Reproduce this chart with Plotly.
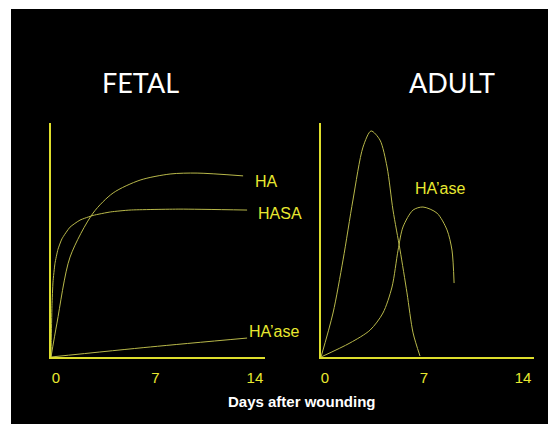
import plotly.graph_objects as go

# page is rendered with an 8px body margin; figure fills the rest of the window
W, H = 548, 416
OX, OY = 8, 8  # page offset of the figure

# ---- data ----
fetal_ha_days = [0, 0.42, 1.34, 2.96, 4.37, 6.27, 8.38, 10.28, 13.52]
fetal_ha_vals = [0, 14.5, 42.7, 61.5, 70.1, 75.6, 78.2, 78.6, 77.4]

fetal_hasa_days = [0, 0.02, 0.07, 0.14, 0.28, 0.49, 0.77, 1.34, 2.04, 2.96, 4.2, 5.56, 9.08, 13.8]
fetal_hasa_vals = [0, 7, 22, 32, 40, 46, 50.5, 55.5, 58.5, 60.5, 62, 62.8, 63.2, 62.8]

fetal_haase_days = [0, 7, 13.8]
fetal_haase_vals = [0, 4.3, 8.1]

adult_ha_days = [0.0, 0.85, 1.56, 2.26, 2.97, 3.54, 4.17, 4.67, 5.09, 5.59, 6.08, 6.51, 7.0]
adult_ha_vals = [0.0, 18.8, 41.5, 67.1, 89.7, 96.6, 92.7, 81.2, 62.8, 45.7, 27.4, 10.3, 0.4]

adult_haase_days = [0.0, 2.05, 3.47, 4.38, 5.02, 5.45, 5.8, 6.51, 7.21, 8.2, 8.91, 9.26, 9.41]
adult_haase_vals = [0.0, 6.0, 11.5, 18.8, 29.9, 45.7, 55.6, 62.8, 64.1, 61.5, 54.3, 45.7, 31.6]

tick_vals = [0, 7, 14]
tick_text = ["0", "7", "14"]

AXIS_C = "#dede2c"
CURVE_C = "#b8b84a"
LABEL_C = "#e8e830"
FONT = "Liberation Sans, Arial, sans-serif"


def px(x):
    return (x - OX) / W


def py(y):
    return (H - (y - OY)) / H


fig = go.Figure()


def line(x, y, xa, ya, smooth=0.8):
    fig.add_trace(go.Scatter(x=x, y=y, mode="lines", xaxis=xa, yaxis=ya,
                             line=dict(color=CURVE_C, width=1, shape="spline", smoothing=smooth),
                             hoverinfo="skip", showlegend=False))


line(fetal_ha_days, fetal_ha_vals, "x", "y")
line(fetal_hasa_days, fetal_hasa_vals, "x", "y", 0.5)
line(fetal_haase_days, fetal_haase_vals, "x", "y")
line(adult_ha_days, adult_ha_vals, "x2", "y2")
line(adult_haase_days, adult_haase_vals, "x2", "y2")

ybot = py(357)
ytop = py(123)


def xaxis(dom, shift):
    return dict(domain=dom, range=[0, 15.06], showline=True, linecolor=AXIS_C, linewidth=2,
                showgrid=False, zeroline=False, tickvals=tick_vals, ticktext=tick_text,
                ticks="", tickfont=dict(color=LABEL_C, size=15, family=FONT),
                ticklabelshift=shift, ticklabelstandoff=6, fixedrange=True)


def yaxis(anchor):
    return dict(domain=[ybot, ytop], range=[0, 100], showline=True, linecolor=AXIS_C,
                linewidth=2, showgrid=False, zeroline=False, showticklabels=False,
                ticks="", anchor=anchor, fixedrange=True)


fig.update_layout(
    width=W, height=H, margin=dict(l=0, r=0, t=0, b=0),
    paper_bgcolor="white", plot_bgcolor="black",
    xaxis=dict(xaxis([px(51), px(265)], 5), anchor="y"), yaxis=yaxis("x"),
    xaxis2=dict(xaxis([px(321), px(534)], 4), anchor="y2"),
    yaxis2=yaxis("x2"),
    shapes=[dict(type="rect", xref="paper", yref="paper", x0=px(11), x1=1,
                 y0=0, y1=py(9), fillcolor="black", line=dict(width=0), layer="below")],
)

ann = []


def lab(text, x, y, xr, yr, xanchor="left"):
    ann.append(dict(text=text, x=x, y=y, xref=xr, yref=yr, showarrow=False,
                    xanchor=xanchor, yanchor="middle",
                    font=dict(color=LABEL_C, size=16, family=FONT)))


lab("HA", 14.2, 74.8, "x", "y")
lab("HASA", 14.44, 61.5, "x", "y")
lab("HA’ase", 13.8, 11.1, "x", "y")
lab("HA", 3.68, 102.8, "x2", "y2", "center")
lab("HA’ase", 6.5, 72.2, "x2", "y2")

for t, cx in [("FETAL", 140), ("ADULT", 452)]:
    ann.append(dict(text=t, x=px(cx), y=py(82), xref="paper", yref="paper",
                    showarrow=False, xanchor="center", yanchor="middle",
                    font=dict(color="white", size=27, family="Lato, sans-serif")))
ann.append(dict(text="<b>Days after wounding</b>", x=px(302), y=py(401),
                xref="paper", yref="paper", showarrow=False, xanchor="center",
                yanchor="middle", font=dict(color="white", size=15, family=FONT)))
fig.update_layout(annotations=ann)

fig.write_html("out.html")
